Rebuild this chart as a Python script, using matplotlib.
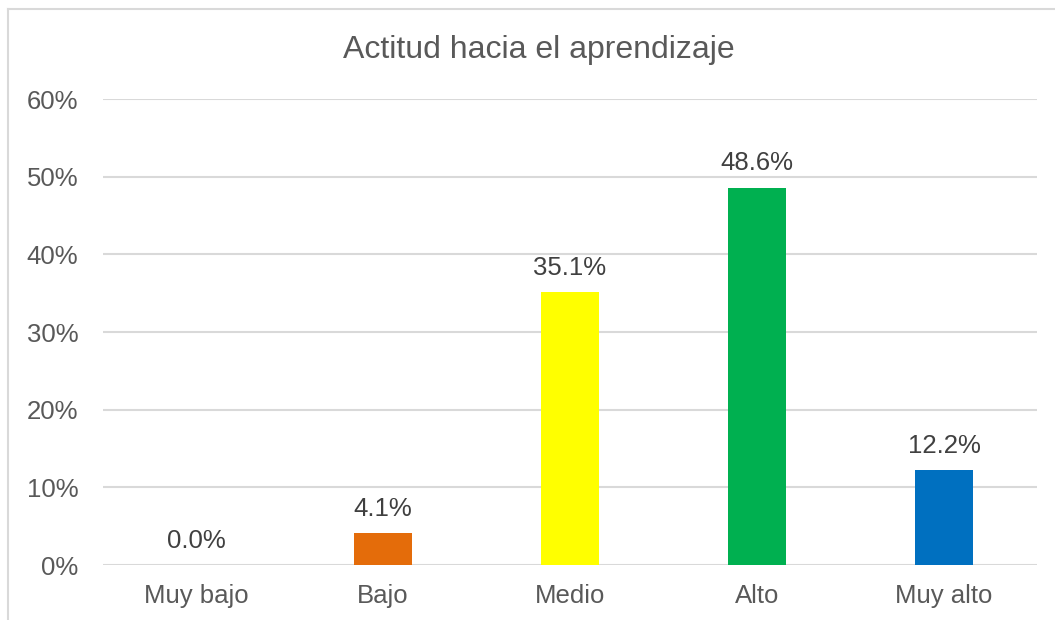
import matplotlib.pyplot as plt
from matplotlib.lines import Line2D
from matplotlib.ticker import PercentFormatter

plt.rcParams['font.family'] = ['Liberation Sans', 'DejaVu Sans']

categories = ["Muy bajo", "Bajo", "Medio", "Alto", "Muy alto"]
values = [0.0, 4.1, 35.1, 48.6, 12.2]
colors = ["#4472C4", "#E46C0A", "#FFFF00", "#00B050", "#0070C0"]
y_ticks = [0, 10, 20, 30, 40, 50, 60]

fig = plt.figure(figsize=(10.55, 6.2), dpi=100)
ax = fig.add_axes([0.0972, 0.0887, 0.8862, 0.7516])

x = range(len(categories))
ax.bar(x, values, width=0.315, color=colors, zorder=3)

for xi, v in zip(x, values):
    ax.annotate(f"{v:.1f}%", (xi, v), xytext=(0, 9), textcoords="offset points",
                ha="center", va="bottom", fontsize=18.5, color="#404040")

ax.set_xlim(-0.5, len(categories) - 0.5)
ax.set_ylim(0, 60)
ax.set_yticks(y_ticks)
ax.yaxis.set_major_formatter(PercentFormatter(decimals=0))
ax.set_xticks(list(x))
ax.set_xticklabels(categories)
ax.tick_params(axis="both", length=0, labelsize=18.5, labelcolor="#595959")
ax.tick_params(axis="y", pad=17.5)
ax.tick_params(axis="x", pad=14)
ax.grid(axis="y", color="#D9D9D9", linewidth=1.5, zorder=0)
for s in ax.spines.values():
    s.set_visible(False)

fig.text(0.511, 0.92, "Actitud hacia el aprendizaje", ha="center", va="center",
         fontsize=23, color="#595959")

# chart border (top and left edges visible)
fig.add_artist(Line2D([8 / 1055, 1], [1 - 9 / 620, 1 - 9 / 620], color="#D9D9D9", linewidth=1.5))
fig.add_artist(Line2D([8 / 1055, 8 / 1055], [0, 1 - 9 / 620], color="#D9D9D9", linewidth=1.5))

fig.savefig("out.png", dpi=100)
